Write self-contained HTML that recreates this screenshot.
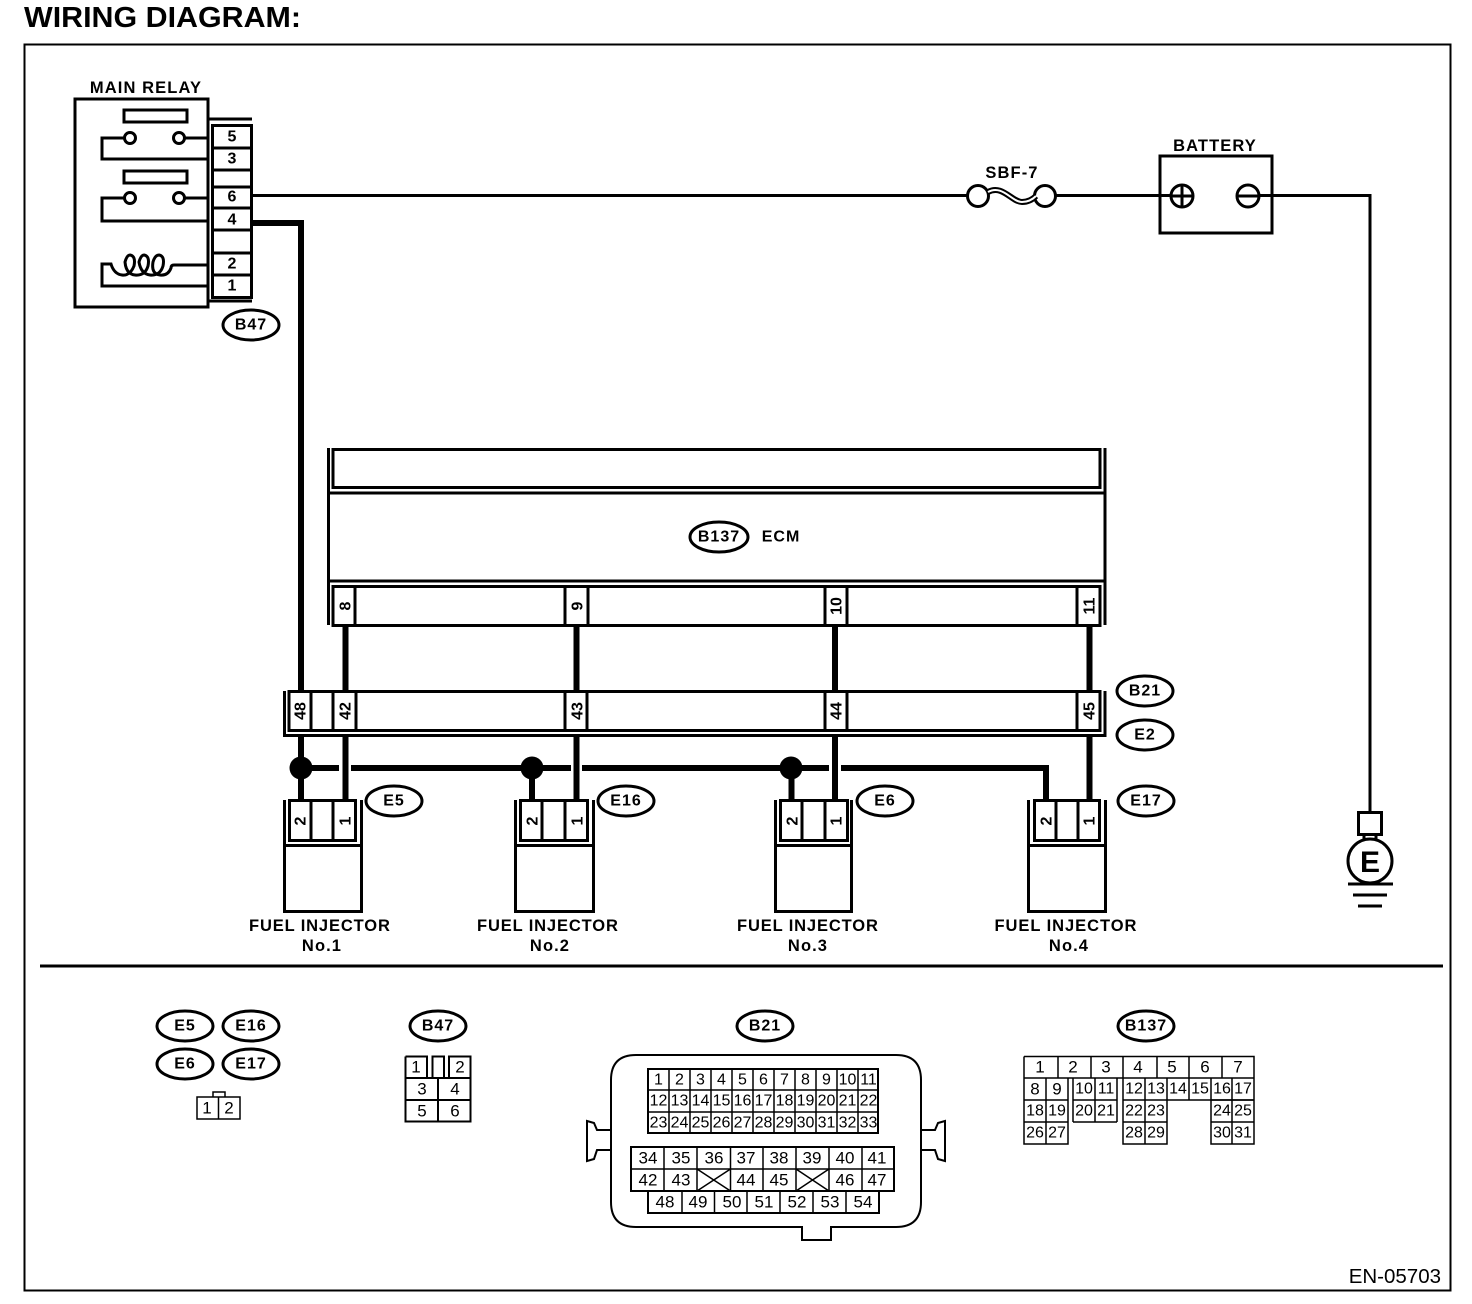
<!DOCTYPE html>
<html><head><meta charset="utf-8">
<style>
html,body{margin:0;padding:0;background:#fff}
svg{display:block}
text{font-family:"Liberation Sans",sans-serif;fill:#000}
.b{font-weight:700;font-size:16.500px;letter-spacing:1.100px;text-anchor:middle}
.o{font-weight:700;font-size:16px;letter-spacing:1px;text-anchor:middle;dominant-baseline:central}
.p{font-weight:700;font-size:16px;text-anchor:middle;dominant-baseline:central}
.n{font-size:17px;text-anchor:middle;dominant-baseline:central}
.m{font-size:16px;text-anchor:middle;dominant-baseline:central}
.s3{fill:none;stroke:#000;stroke-width:3}
.s2{fill:none;stroke:#000;stroke-width:2}
.s1{fill:none;stroke:#000;stroke-width:1.5}
.t{fill:none;stroke:#000;stroke-width:6}
.ov{fill:#fff;stroke:#000;stroke-width:3}
</style></head><body>
<svg width="1472" height="1304" viewBox="0 0 1472 1304" xmlns="http://www.w3.org/2000/svg">
<rect width="1472" height="1304" fill="#fff"/>
<text x="24" y="27" font-size="29" font-weight="700" textLength="277" lengthAdjust="spacingAndGlyphs">WIRING DIAGRAM:</text>
<rect x="24.5" y="44.5" width="1426" height="1246" class="s2"/>

<!-- Main relay -->
<text x="146" y="93" class="b">MAIN RELAY</text>
<rect x="75" y="99" width="133" height="208" class="s3"/>
<rect x="124" y="110" width="63" height="12" class="s3"/>
<rect x="124" y="171" width="63" height="12" class="s3"/>
<path d="M124,138H102V159H208M184,138H208M124,198H102V221H208M184,198H208" class="s3"/>
<circle cx="130" cy="138" r="5.5" class="ov"/><circle cx="179" cy="138" r="5.5" class="ov"/>
<circle cx="130" cy="198" r="5.5" class="ov"/><circle cx="179" cy="198" r="5.5" class="ov"/>
<path d="M208,265H174Q171,265 171,268Q168,276 160,275Q151,274 153,262Q155,255 159,255Q165,256 163,266Q160,276 150,275Q141,274 139,262Q141,255 144,255Q150,256 148,266Q145,276 135,275Q126,274 125,262Q127,255 130,255Q136,256 134,266Q130,276 122,275Q114,274 111,264H102V286H208" class="s3"/>
<path d="M208,119H252M208,301H252" class="s3"/>
<rect x="212.5" y="125.5" width="39" height="172" class="s3"/>
<path d="M212,148H252M212,170H252M212,187H252M212,208H252M212,230H252M212,253H252M212,275H252" class="s3"/>
<text x="232" y="137" class="p">5</text><text x="232" y="159" class="p">3</text>
<text x="232" y="197" class="p">6</text><text x="232" y="220" class="p">4</text>
<text x="232" y="264" class="p">2</text><text x="232" y="286" class="p">1</text>
<ellipse cx="251" cy="325" rx="28" ry="15" class="ov"/><text x="251" y="325" class="o">B47</text>

<!-- Top wiring -->
<path d="M252,195.5H968M1055,195.5H1171M1259,195.5H1370V812" class="s3"/>
<circle cx="978" cy="196" r="10.5" class="ov"/><circle cx="1045" cy="196" r="10.5" class="ov"/>
<path d="M988,192C1002,184 1012,202 1022,202C1028,202 1032,200 1036,196" fill="none" stroke="#000" stroke-width="6"/>
<path d="M988,192C1002,184 1012,202 1022,202C1028,202 1032,200 1036,196" fill="none" stroke="#fff" stroke-width="2"/>
<text x="1012" y="178" class="b">SBF-7</text>
<text x="1215" y="151" class="b">BATTERY</text>
<rect x="1160" y="156" width="112" height="77" class="s3"/>
<circle cx="1182" cy="196" r="11" class="ov"/><path d="M1182,185V207M1171,196H1193" class="s3"/>
<circle cx="1248" cy="196" r="11" class="ov"/><path d="M1237,196H1259" class="s3"/>

<!-- Ground -->
<rect x="1358.500" y="812.500" width="23" height="22" class="s3"/>
<path d="M1364,834V841M1376,834V841" class="s3"/>
<circle cx="1370" cy="861" r="22" class="ov"/>
<text x="1370" y="872" font-size="30" font-weight="700" text-anchor="middle">E</text>
<path d="M1348,884H1393M1353,895H1387M1358,906H1382" class="s3"/>

<!-- Thick wires -->
<path d="M252,223H301V692" class="t"/>
<path d="M345.500,625V692M576.500,625V692M835,625V692M1089.500,625V692" class="t"/>
<path d="M301,735V800M345.500,735V800M576.500,735V800M835,735V800M1089.500,735V800M532,768V800M791.500,768V800" class="t"/>
<path d="M301,768H339M351,768H571M582,768H829M841,768H1046V800" class="t"/>
<circle cx="301" cy="768" r="11.500"/><circle cx="532" cy="768" r="11.500"/><circle cx="791" cy="768" r="11.500"/>

<!-- ECM -->
<path d="M328.500,448V625M1105,448V625M328,493H1106M328,581H1106" class="s3"/>
<rect x="333" y="449.500" width="767" height="38" class="s3"/>
<rect x="333" y="586.500" width="767" height="39" fill="#fff" stroke="#000" stroke-width="3"/>
<path d="M355,586V625M565,586V625M588,586V625M825,586V625M847,586V625M1077,586V625" class="s3"/>
<ellipse cx="719" cy="537" rx="29" ry="15" class="ov"/><text x="719" y="537" class="o">B137</text>
<text x="781" y="537" class="o">ECM</text>
<text class="p" transform="translate(346,606) rotate(-90)">8</text>
<text class="p" transform="translate(578,606) rotate(-90)">9</text>
<text class="p" transform="translate(837,606) rotate(-90)">10</text>
<text class="p" transform="translate(1090,606) rotate(-90)">11</text>

<!-- B21/E2 connector -->
<path d="M284.500,691V735.500H1105V691" class="s3"/>
<rect x="289" y="691.500" width="811" height="39" fill="#fff" stroke="#000" stroke-width="3"/>
<path d="M311,691V730M333,691V730M356,691V730M565,691V730M587,691V730M825,691V730M847,691V730M1077,691V730" class="s3"/>
<text class="p" transform="translate(301,711) rotate(-90)">48</text>
<text class="p" transform="translate(346,711) rotate(-90)">42</text>
<text class="p" transform="translate(578,711) rotate(-90)">43</text>
<text class="p" transform="translate(837,711) rotate(-90)">44</text>
<text class="p" transform="translate(1090,711) rotate(-90)">45</text>
<ellipse cx="1145" cy="691" rx="28" ry="15" class="ov"/><text x="1145" y="691" class="o">B21</text>
<ellipse cx="1145" cy="735" rx="28" ry="15" class="ov"/><text x="1145" y="735" class="o">E2</text>

<!-- Injectors -->
<path d="M284.500,800V911.500H361.500V800M284,845.500H362" class="s3"/>
<rect x="289.500" y="800.500" width="66" height="40" class="s3"/>
<path d="M311,800V840M333,800V840" class="s3"/>
<text class="p" transform="translate(301,821) rotate(-90)">2</text>
<text class="p" transform="translate(346,821) rotate(-90)">1</text>
<ellipse cx="394" cy="801" rx="28" ry="15" class="ov"/><text x="394" y="801" class="o">E5</text>
<text x="320" y="931" class="b" textLength="142">FUEL INJECTOR</text>
<text x="322" y="951" class="b">No.1</text>

<path d="M515.500,800V911.500H593.500V800M515,845.500H594" class="s3"/>
<rect x="520.500" y="800.500" width="67" height="40" class="s3"/>
<path d="M542,800V840M565,800V840" class="s3"/>
<text class="p" transform="translate(533,821) rotate(-90)">2</text>
<text class="p" transform="translate(578,821) rotate(-90)">1</text>
<ellipse cx="626" cy="801" rx="28" ry="15" class="ov"/><text x="626" y="801" class="o">E16</text>
<text x="548" y="931" class="b" textLength="142">FUEL INJECTOR</text>
<text x="550" y="951" class="b">No.2</text>

<path d="M775.500,800V911.500H851.500V800M775,845.500H852" class="s3"/>
<rect x="780.500" y="800.500" width="67" height="40" class="s3"/>
<path d="M802,800V840M825,800V840" class="s3"/>
<text class="p" transform="translate(793,821) rotate(-90)">2</text>
<text class="p" transform="translate(837,821) rotate(-90)">1</text>
<ellipse cx="885" cy="801" rx="28" ry="15" class="ov"/><text x="885" y="801" class="o">E6</text>
<text x="808" y="931" class="b" textLength="142">FUEL INJECTOR</text>
<text x="808" y="951" class="b">No.3</text>

<path d="M1028.500,800V911.500H1105.500V800M1028,845.500H1106" class="s3"/>
<rect x="1034.500" y="800.500" width="65" height="40" class="s3"/>
<path d="M1056,800V840M1078,800V840" class="s3"/>
<text class="p" transform="translate(1047,821) rotate(-90)">2</text>
<text class="p" transform="translate(1090,821) rotate(-90)">1</text>
<ellipse cx="1146" cy="801" rx="28" ry="15" class="ov"/><text x="1146" y="801" class="o">E17</text>
<text x="1066" y="931" class="b" textLength="143">FUEL INJECTOR</text>
<text x="1069" y="951" class="b">No.4</text>

<path d="M40,966H1443" class="s3"/>

<!-- Bottom: E connectors -->
<ellipse cx="185" cy="1026" rx="28" ry="15" class="ov"/><text x="185" y="1026" class="o">E5</text>
<ellipse cx="251" cy="1026" rx="28" ry="15" class="ov"/><text x="251" y="1026" class="o">E16</text>
<ellipse cx="185" cy="1064" rx="28" ry="15" class="ov"/><text x="185" y="1064" class="o">E6</text>
<ellipse cx="251" cy="1064" rx="28" ry="15" class="ov"/><text x="251" y="1064" class="o">E17</text>
<rect x="197" y="1097" width="43" height="22" class="s1"/>
<path d="M218.500,1097V1119M213,1097V1092H225V1097" class="s1"/>
<text x="207" y="1108" class="n">1</text><text x="229" y="1108" class="n">2</text>

<!-- Bottom: B47 -->
<ellipse cx="438" cy="1026" rx="28" ry="15" class="ov"/><text x="438" y="1026" class="o">B47</text>
<path d="M405.500,1056.500H427V1078M432.500,1078V1056.500H444V1078M449,1078V1056.500H470.500V1121.500H405.500V1056.500" class="s2"/>
<path d="M405,1078H471M405,1100H471M438,1078V1122" class="s2"/>
<text x="416" y="1067" class="n">1</text><text x="460" y="1067" class="n">2</text>
<text x="422" y="1089" class="n">3</text><text x="455" y="1089" class="n">4</text>
<text x="422" y="1111" class="n">5</text><text x="455" y="1111" class="n">6</text>

<!-- Bottom: B21 -->
<ellipse cx="765" cy="1026" rx="28" ry="15" class="ov"/><text x="765" y="1026" class="o">B21</text>
<path d="M636,1055H896Q921,1055 921,1080V1202Q921,1227 896,1227H831V1240H802V1227H636Q611,1227 611,1202V1080Q611,1055 636,1055Z" class="s2"/>
<path d="M611,1130H597L594,1123L587,1121V1161L594,1159L597,1150H611" class="s2" fill="#fff"/>
<path d="M921,1130H935L938,1123L945,1121V1161L938,1159L935,1150H921" class="s2" fill="#fff"/>
<rect x="648" y="1069" width="230" height="64" class="s2"/>
<path d="M648,1090H878M648,1112H878M669,1069V1133M690,1069V1133M711,1069V1133M732,1069V1133M753,1069V1133M774,1069V1133M795,1069V1133M816,1069V1133M837,1069V1133M858,1069V1133" class="s1"/>
<text x="658.500" y="1080" class="m">1</text><text x="679.500" y="1080" class="m">2</text><text x="700.500" y="1080" class="m">3</text><text x="721.500" y="1080" class="m">4</text><text x="742.500" y="1080" class="m">5</text><text x="763.500" y="1080" class="m">6</text><text x="784.500" y="1080" class="m">7</text><text x="805.500" y="1080" class="m">8</text><text x="826.500" y="1080" class="m">9</text><text x="847.500" y="1080" class="m">10</text><text x="868.500" y="1080" class="m">11</text>
<text x="658.500" y="1101" class="m">12</text><text x="679.500" y="1101" class="m">13</text><text x="700.500" y="1101" class="m">14</text><text x="721.500" y="1101" class="m">15</text><text x="742.500" y="1101" class="m">16</text><text x="763.500" y="1101" class="m">17</text><text x="784.500" y="1101" class="m">18</text><text x="805.500" y="1101" class="m">19</text><text x="826.500" y="1101" class="m">20</text><text x="847.500" y="1101" class="m">21</text><text x="868.500" y="1101" class="m">22</text>
<text x="658.500" y="1123" class="m">23</text><text x="679.500" y="1123" class="m">24</text><text x="700.500" y="1123" class="m">25</text><text x="721.500" y="1123" class="m">26</text><text x="742.500" y="1123" class="m">27</text><text x="763.500" y="1123" class="m">28</text><text x="784.500" y="1123" class="m">29</text><text x="805.500" y="1123" class="m">30</text><text x="826.500" y="1123" class="m">31</text><text x="847.500" y="1123" class="m">32</text><text x="868.500" y="1123" class="m">33</text>
<rect x="631" y="1147" width="263" height="44" class="s2"/>
<path d="M631,1169H894M664,1147V1191M697,1147V1191M730.500,1147V1191M763,1147V1191M796,1147V1191M829,1147V1191M862,1147V1191" class="s1"/>
<path d="M697,1169L730.500,1191M730.500,1169L697,1191M796,1169L829,1191M829,1169L796,1191" class="s1"/>
<rect x="648" y="1191" width="231" height="22" class="s2"/>
<path d="M682,1191V1213M714.500,1191V1213M747,1191V1213M780,1191V1213M813,1191V1213M846,1191V1213" class="s1"/>
<text x="648" y="1158" class="n">34</text><text x="681" y="1158" class="n">35</text><text x="714" y="1158" class="n">36</text><text x="746" y="1158" class="n">37</text><text x="779" y="1158" class="n">38</text><text x="812" y="1158" class="n">39</text><text x="845" y="1158" class="n">40</text><text x="877" y="1158" class="n">41</text>
<text x="648" y="1180" class="n">42</text><text x="681" y="1180" class="n">43</text><text x="746" y="1180" class="n">44</text><text x="779" y="1180" class="n">45</text><text x="845" y="1180" class="n">46</text><text x="877" y="1180" class="n">47</text>
<text x="665" y="1202" class="n">48</text><text x="698" y="1202" class="n">49</text><text x="732" y="1202" class="n">50</text><text x="764" y="1202" class="n">51</text><text x="797" y="1202" class="n">52</text><text x="830" y="1202" class="n">53</text><text x="863" y="1202" class="n">54</text>

<!-- Bottom: B137 -->
<ellipse cx="1146" cy="1026" rx="28" ry="15" class="ov"/><text x="1146" y="1026" class="o">B137</text>
<path d="M1024,1056.500H1254V1100M1211,1100H1254V1144H1211V1100M1123,1078V1144H1167V1100M1024,1056.500V1144H1068V1078" class="s1"/>
<path d="M1058,1056V1078M1091,1056V1078M1123,1056V1078M1157,1056V1078M1189,1056V1078M1222,1056V1078M1024,1078H1254M1024,1100H1068M1073,1100H1117M1123,1100H1254M1024,1122H1068M1073,1122H1117M1123,1122H1167M1211,1122H1254M1046,1078V1144M1145,1100V1144M1232,1078V1144M1073,1078V1122M1095,1078V1122M1117,1078V1122M1145,1078V1100M1167,1078V1100M1189,1078V1100M1211,1078V1100" class="s1"/>
<text x="1040" y="1067" class="n">1</text><text x="1073" y="1067" class="n">2</text><text x="1106" y="1067" class="n">3</text><text x="1138" y="1067" class="n">4</text><text x="1172" y="1067" class="n">5</text><text x="1205" y="1067" class="n">6</text><text x="1238" y="1067" class="n">7</text>
<text x="1035" y="1089" class="n">8</text><text x="1057" y="1089" class="n">9</text><text x="1084" y="1089" class="m">10</text><text x="1106" y="1089" class="m">11</text><text x="1134" y="1089" class="m">12</text><text x="1156" y="1089" class="m">13</text><text x="1178" y="1089" class="m">14</text><text x="1200" y="1089" class="m">15</text><text x="1222" y="1089" class="m">16</text><text x="1243" y="1089" class="m">17</text>
<text x="1035" y="1111" class="m">18</text><text x="1057" y="1111" class="m">19</text><text x="1084" y="1111" class="m">20</text><text x="1106" y="1111" class="m">21</text><text x="1134" y="1111" class="m">22</text><text x="1156" y="1111" class="m">23</text><text x="1222" y="1111" class="m">24</text><text x="1243" y="1111" class="m">25</text>
<text x="1035" y="1133" class="m">26</text><text x="1057" y="1133" class="m">27</text><text x="1134" y="1133" class="m">28</text><text x="1156" y="1133" class="m">29</text><text x="1222" y="1133" class="m">30</text><text x="1243" y="1133" class="m">31</text>

<text x="1441" y="1283" font-size="20.500" text-anchor="end">EN-05703</text>
</svg>
</body></html>
